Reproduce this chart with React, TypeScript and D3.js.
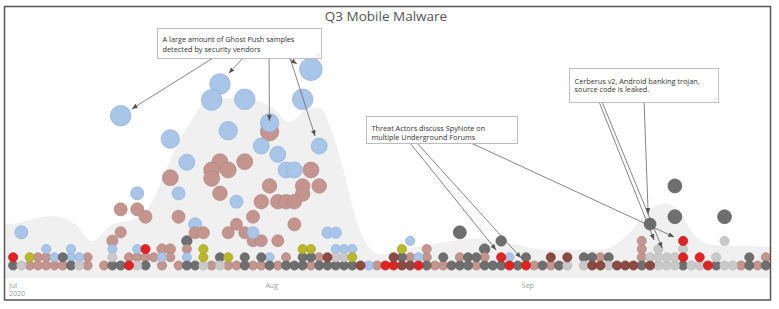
import React from 'react';
import * as d3 from 'd3';

// [day index since Jul 1, stack level, sample weight]
type Dot = [number, number, number];

const startDate = new Date(Date.UTC(2020, 6, 1));
const endDate = new Date(Date.UTC(2020, 9, 1));
const chartTitle = 'Q3 Mobile Malware';

const blueDots: Dot[] = [
  [4, 2, 1], [5, 1, 1], [7, 1, 1], [7, 2, 1], [8, 1, 1], [12, 2, 1], [15, 2, 1], [18, 1, 1],
  [21, 1, 1], [31, 1, 1], [39, 2, 1], [40, 2, 1], [41, 2, 1], [43, 0, 1], [48, 3, 1], [49, 1, 1], [60, 1, 1],
  [1, 4.05, 2], [13, 18.27, 5], [25, 22.13, 5], [24, 20.18, 5], [28, 20.27, 5], [36, 23.93, 6],
  [35, 20.27, 5], [19, 15.43, 4], [26, 16.44, 4], [31, 17.41, 4], [37, 14.57, 3], [30, 14.57, 3],
  [32, 13.56, 3], [33, 11.65, 3], [34, 11.65, 3], [21, 12.59, 3], [15, 8.8, 2], [20, 8.8, 2],
  [27, 7.78, 2], [22, 5.02, 2], [29, 4.0, 1.7], [38, 4.0, 1.5], [39, 4.0, 1.5],
];

const pinkDots: Dot[] = [
  [2, 0, 1], [3, 0, 1], [3, 1, 1], [4, 0, 1], [4, 1, 1], [5, 0, 1], [6, 0, 1], [9, 0, 1], [9, 1, 1],
  [11, 0, 1], [14, 1, 1], [15, 1, 1], [16, 1, 1], [17, 1, 1], [18, 0, 1], [19, 1, 1], [20, 0, 1],
  [24, 0, 1], [26, 0, 1], [27, 0, 1], [29, 0, 1], [30, 0, 1], [32, 0, 1], [33, 1, 1], [36, 0, 1],
  [37, 1, 1], [44, 0, 1], [48, 1, 1], [50, 1, 1], [50, 2, 1], [51, 0, 1], [52, 0, 1], [54, 1, 1],
  [56, 0, 1], [57, 1, 1], [63, 0, 1], [65, 0, 1], [71, 1, 1], [76, 1, 1], [76, 2, 1], [76, 3, 1],
  [88, 0, 1], [90, 0, 1], [91, 1, 1], [21, 2, 1],
  [25, 12.66, 3], [24, 11.65, 3], [26, 11.65, 3], [28, 12.66, 3], [24, 10.63, 3], [19, 10.7, 3],
  [25, 8.8, 2.5], [13, 6.85, 2], [15, 6.85, 2], [16, 5.95, 2], [20, 5.95, 2], [29, 5.95, 2],
  [22, 4.0, 1.7], [23, 4.0, 1.7], [26, 4.0, 1.7], [27, 5.02, 1.7], [28, 4.0, 1.7],
  [31, 9.7, 2.5], [35, 9.7, 2.5], [37, 9.7, 2.5], [36, 11.65, 3], [35, 8.72, 2.5],
  [30, 7.78, 2.5], [32, 7.78, 2.5], [33, 7.78, 2.5], [34, 7.78, 2.5], [34, 5.02, 2],
  [29, 3.02, 1.7], [30, 3.02, 1.7], [32, 3.02, 1.7], [31, 16.32, 4], [12, 3.02, 1.5],
  [13, 4.05, 1.5], [18, 2.0, 1.3], [19, 2.0, 1.3],
];

const darkGrayDots: Dot[] = [
  [0, 0, 1], [6, 1, 1], [7, 0, 1], [12, 0, 1], [13, 0, 1], [16, 0, 1], [21, 0, 1], [21, 3, 1.3],
  [22, 0, 1], [25, 1, 1], [28, 0, 1], [28, 1, 1], [30, 1, 1], [31, 0, 1], [33, 0, 1], [34, 0, 1],
  [35, 0, 1], [35, 1, 1], [36, 1, 1], [37, 0, 1], [38, 0, 1], [39, 0, 1], [40, 0, 1], [41, 0, 1],
  [47, 1, 1], [50, 0, 1], [52, 1, 1], [53, 0, 1], [54, 0, 1], [55, 0, 1], [55, 1, 1], [56, 1, 1],
  [57, 0, 1], [57, 2, 1.3], [58, 0, 1], [59, 0, 1], [59, 3, 1.3], [61, 0, 1], [62, 1, 1], [64, 0, 1],
  [66, 0, 1], [69, 1, 1], [70, 1, 1], [72, 1, 1], [76, 0, 1], [81, 0, 1], [85, 0, 1], [89, 0, 1],
  [89, 1, 1], [91, 0, 1],
  [54, 4.05, 2], [77, 5.05, 1.7], [80, 9.7, 2.3], [80, 5.95, 2.3], [86, 5.95, 2.3],
];

const lightGrayDots: Dot[] = [
  [1, 0, 1], [8, 0, 1], [12, 1, 1], [15, 0, 1], [23, 0, 1], [25, 0, 1], [39, 1, 1], [40, 1, 1],
  [67, 0, 1], [69, 0, 1], [72, 0, 1], [77, 1, 1], [78, 0, 1], [78, 1, 1], [78, 2, 1], [79, 0, 1],
  [79, 1, 1], [80, 0, 1], [80, 1, 1], [81, 2, 1], [82, 0, 1], [83, 0, 1], [85, 1, 1], [86, 0, 1],
  [86, 3, 1], [87, 0, 1],
];

const redDots: Dot[] = [
  [0, 1, 1], [14, 0, 1], [16, 2, 1], [45, 0, 1], [46, 0, 1], [49, 0, 1], [59, 1, 1], [60, 0, 1],
  [62, 0, 1], [81, 1, 1], [81, 3, 1], [83, 1, 1], [84, 0, 1],
];

const oliveDots: Dot[] = [
  [2, 1, 1], [23, 1, 1], [23, 2, 1], [26, 1, 1], [35, 2, 1], [36, 2, 1], [41, 1, 1], [47, 2, 1],
];

const brownDots: Dot[] = [
  [38, 1, 1], [42, 0, 1], [46, 1, 1], [47, 0, 1], [48, 0, 1], [65, 1, 1], [67, 1, 1], [70, 0, 1],
  [71, 0, 1], [73, 0, 1], [74, 0, 1], [75, 0, 1], [77, 0, 1],
];

// density of activity (relative), sampled by day
const densityDays = [
  -0.5, 0, 5, 8, 10, 12.2, 15.2, 17, 18.9, 20.7, 22.5, 24, 28, 31.6, 34, 35.8, 37.6, 39, 40.6, 41.8,
  43.3, 44.9, 47.3, 52.1, 56.3, 60.6, 65.4, 71.5, 75.1, 77.5, 79.3, 81.1, 83, 85.4, 92,
];
const densityValues = [
  0.3, 0.3, 0.345, 0.3, 0.205, 0.29, 0.33, 0.4, 0.59, 0.77, 0.905, 0.99, 1.0, 0.955, 0.865, 0.935,
  0.945, 0.82, 0.57, 0.35, 0.185, 0.13, 0.155, 0.195, 0.22, 0.19, 0.155, 0.155, 0.255, 0.38, 0.415,
  0.365, 0.23, 0.18, 0.175,
];

const annotationTexts: string[][] = [
  ['A large amount of Ghost Push samples', 'detected by security vendors'],
  ['Threat Actors discuss SpyNote on', 'multiple Underground Forums'],
  ['Cerberus v2, Android banking trojan,', 'source code is leaked.'],
];
// box top-left anchor in (day, level)
const annotationAnchors: [number, number][] = [[17.9, 28.96], [43.16, 18.23], [67.71, 24.09]];
// [annotation index, target day, target level]
const arrowTargets: [number, number, number][] = [
  [0, 14.84, 19.09], [0, 26.57, 23.44], [0, 31.48, 17.62], [0, 37.0, 15.79], [0, 34.82, 24.57],
  [1, 58.89, 1.89], [1, 61.91, 0.91], [1, 80.41, 3.48],
  [2, 77.99, 3.11], [2, 78.96, 2.13], [2, 77.27, 6.28],
];

const seriesColors: [Dot[], string, string][] = [
  [pinkDots, '#c4958e', '#b3857e'],
  [blueDots, '#a9c5e8', '#8eaedb'],
  [darkGrayDots, '#6f6f6f', '#626262'],
  [lightGrayDots, '#c9c9c9', '#b9b9b9'],
  [redDots, '#e02424', '#c81c1c'],
  [oliveDots, '#b8b82a', '#a3a324'],
  [brownDots, '#8c4a43', '#7a3f39'],
];

export default function App() {
  const W = 779;
  const H = 309;
  const dayToDate = (d: number) => new Date(startDate.getTime() + d * 864e5);
  const x = d3.scaleUtc().domain([startDate, endDate]).range([9, 770]);
  const y = d3.scaleLinear().domain([0, 24]).range([265.5, 68.7]);
  const r = d3.scaleSqrt().domain([0, 1]).range([0, 4.6]);
  const dens = d3.scaleLinear().domain([0, 1]).range([278, 98]);

  const area = d3
    .area<number>()
    .x((_, i) => x(dayToDate(densityDays[i])))
    .y0(dens(0))
    .y1((v) => dens(v))
    .curve(d3.curveMonotoneX);

  const allDots: { cx: number; cy: number; rr: number; fill: string; stroke: string }[] = [];
  seriesColors.forEach(([dots, fill, stroke]) => {
    dots.forEach(([k, lvl, s]) => {
      allDots.push({ cx: x(dayToDate(k + 0.5)), cy: y(lvl), rr: r(s), fill, stroke });
    });
  });
  allDots.sort((a, b) => b.rr - a.rr);

  const boxSizes: [number, number][] = [[164, 30], [151, 27], [149, 34]];
  const textOffsets: [number, number, number][] = [[5.5, 14, 10], [5.5, 14.5, 9], [5.5, 16, 8.5]];
  const sourceOffsets = [56, 86, 112, 133, 131, 44, 51, 105, 30, 33, 75];

  const months = x.ticks(d3.utcMonth.every(1)!).filter((d) => d < endDate);
  const fmt = d3.utcFormat('%b');
  const font = '"Open Sans", "Noto Sans", sans-serif';

  return (
    <svg width={W} height={H} style={{ position: 'absolute', left: 0, top: 0, background: '#fff' }}>
      <defs>
        <clipPath id="plotClip">
          <rect x={5} y={7} width={765} height={292} />
        </clipPath>
        <marker id="arrowHead" viewBox="0 0 10 10" refX={10} refY={5} markerWidth={6} markerHeight={6}
          markerUnits="userSpaceOnUse" orient="auto">
          <path d="M0,1 L10,5 L0,9 z" fill="#555" />
        </marker>
      </defs>
      <text x={386} y={21} textAnchor="middle" fontFamily={font} fontSize={13.5} fill="#555">
        {chartTitle}
      </text>
      <g clipPath="url(#plotClip)">
        <path d={area(densityValues) || ''} fill="#f0f0f0" />
        {allDots.map((d, i) => (
          <circle key={i} cx={d.cx} cy={d.cy} r={d.rr} fill={d.fill} stroke={d.stroke} strokeWidth={0.7} />
        ))}
      </g>
      {arrowTargets.map(([ai, td, tl], i) => {
        const bx = x(dayToDate(annotationAnchors[ai][0]));
        const by = y(annotationAnchors[ai][1]);
        const sx = bx + sourceOffsets[i];
        const sy = by + boxSizes[ai][1];
        return (
          <line key={i} x1={sx} y1={sy} x2={x(dayToDate(td))} y2={y(tl)} stroke="#666" strokeWidth={0.8}
            markerEnd="url(#arrowHead)" />
        );
      })}
      {annotationTexts.map((lines, ai) => {
        const bx = x(dayToDate(annotationAnchors[ai][0]));
        const by = y(annotationAnchors[ai][1]);
        const [bw, bh] = boxSizes[ai];
        const [tx, ty, lh] = textOffsets[ai];
        return (
          <g key={ai}>
            <rect x={bx + 0.5} y={by + 0.5} width={bw} height={bh} fill="#fff" stroke="#bdbdbd" strokeWidth={1} />
            {lines.map((t, li) => (
              <text key={li} x={bx + tx} y={by + ty + li * lh} fontFamily={font} fontSize={7.3} fill="#333">
                {t}
              </text>
            ))}
            <line x1={bx + bw - 5} y1={by + bh - 1.5} x2={bx + bw - 1.5} y2={by + bh - 5} stroke="#bbb" strokeWidth={0.6} />
            <line x1={bx + bw - 3} y1={by + bh - 1.5} x2={bx + bw - 1.5} y2={by + bh - 3} stroke="#bbb" strokeWidth={0.6} />
          </g>
        );
      })}
      {months.map((m, i) => (
        <g key={i}>
          <text x={x(m)} y={288} fontFamily={font} fontSize={7} fill="#999">
            {fmt(m)}
          </text>
          {i === 0 && (
            <text x={x(m)} y={296} fontFamily={font} fontSize={7} fill="#999">
              {d3.utcFormat('%Y')(m)}
            </text>
          )}
        </g>
      ))}
      <rect x={4.5} y={6.5} width={766} height={293.5} fill="none" stroke="#555" strokeWidth={1.5} />
    </svg>
  );
}
